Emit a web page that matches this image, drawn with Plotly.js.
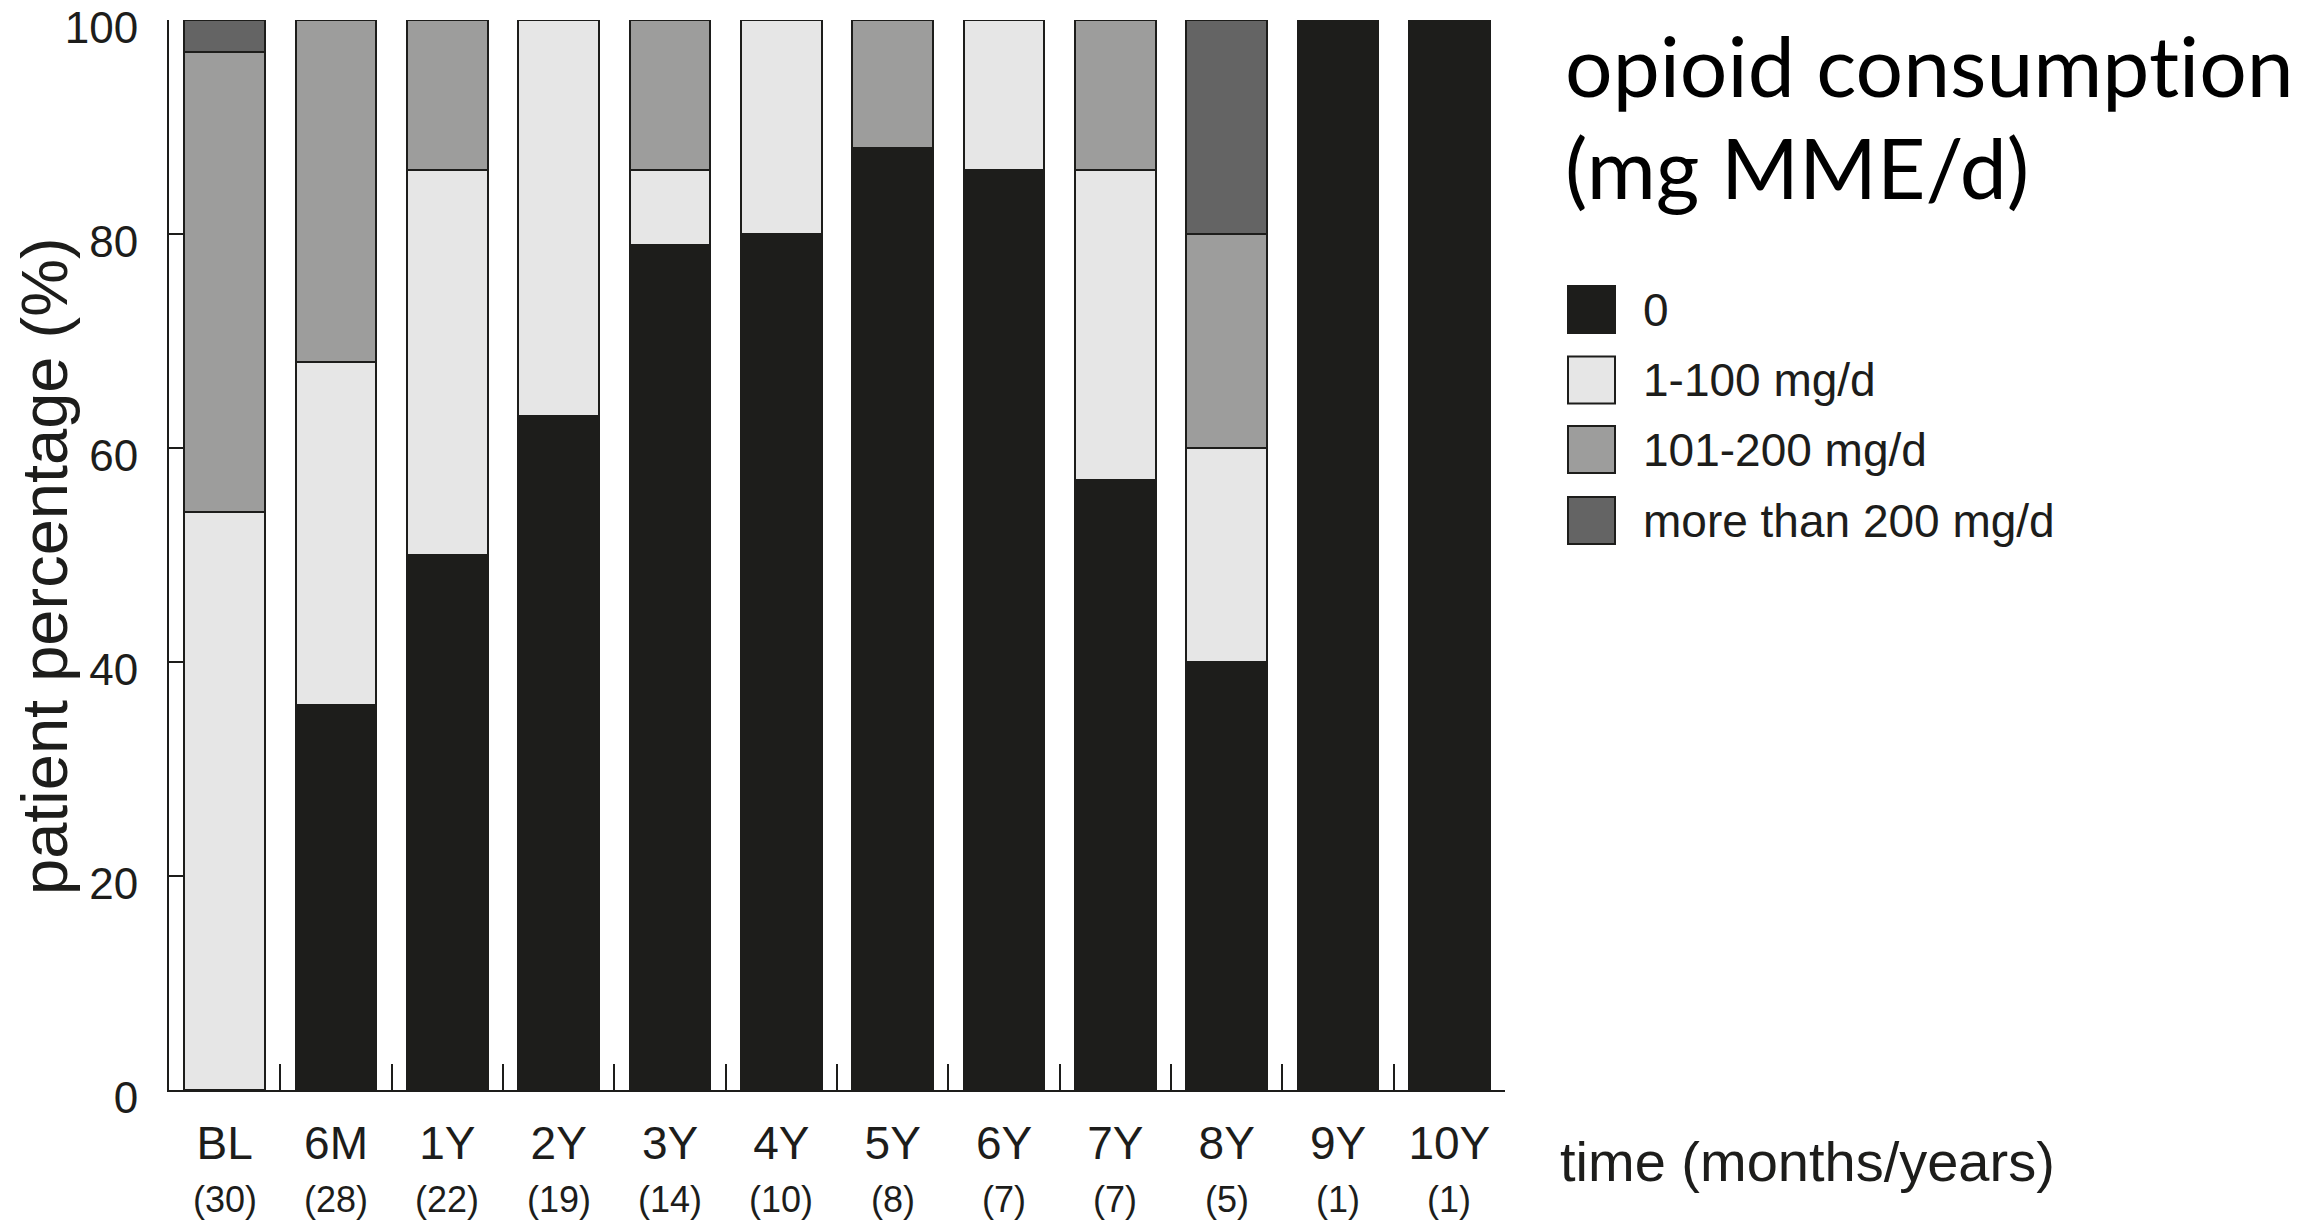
<!DOCTYPE html>
<html>
<head>
<meta charset="utf-8">
<script src="https://cdn.plot.ly/plotly-3.0.1.min.js"></script>
<style>html,body{margin:0;padding:0;background:#fff;}#chart{width:2315px;height:1220px;}
text{font-variant-ligatures:none;font-feature-settings:"liga" 0, "clig" 0;}</style>
</head>
<body>
<div id="chart"></div>
<script>
// ---- data ----
const categories = ['BL', '6M', '1Y', '2Y', '3Y', '4Y', '5Y', '6Y', '7Y', '8Y', '9Y', '10Y'];
const counts = [30, 28, 22, 19, 14, 10, 8, 7, 7, 5, 1, 1];
const seriesNames = ['0', '1-100 mg/d', '101-200 mg/d', 'more than 200 mg/d'];
const pctNone = [0, 36, 50, 63, 79, 80, 88, 86, 57, 40, 100, 100];
const pct1to100 = [54, 32, 36, 37, 7, 20, 0, 14, 29, 20, 0, 0];
const pct101to200 = [43, 32, 14, 0, 14, 0, 12, 0, 14, 20, 0, 0];
const pctOver200 = [3, 0, 0, 0, 0, 0, 0, 0, 0, 20, 0, 0];
const yTicks = [0, 20, 40, 60, 80, 100];
const legendTitle = ['opioid consumption', '(mg MME/d)'];
const xTitle = 'time (months/years)';
const yTitle = 'patient percentage (%)';

// ---- styling ----
const colors = ['#1d1d1b', '#e6e6e6', '#9d9d9c', '#646464'];
const ink = '#1d1d1b';
const font = 'Liberation Sans, Arial, sans-serif';
const W = 2315, H = 1220;
const L = 169, R = 1505, T = 20, B = 1090;
const px2x = p => (p - L) / (R - L);
const py2y = p => (B - p) / (B - T);

const seriesValues = [pctNone, pct1to100, pct101to200, pctOver200];
const traces = seriesValues.map((vals, i) => ({
  type: 'bar',
  name: seriesNames[i],
  x: categories,
  y: vals.map(v => (v === 0 ? null : v)),
  marker: {color: colors[i], line: {color: ink, width: 2}},
  showlegend: false,
  hoverinfo: 'x+y+name'
}));

const shapes = [];
const annotations = [];
// manual legend
const swatchCenters = [309.5, 380, 449.5, 520.5];
const sw = 47;
seriesNames.forEach((n, i) => {
  const cy = swatchCenters[i];
  shapes.push({type: 'rect', xref: 'paper', yref: 'paper',
    x0: px2x(1568), x1: px2x(1568 + sw), y0: py2y(cy + sw / 2), y1: py2y(cy - sw / 2),
    fillcolor: colors[i], line: {color: ink, width: 2}});
  annotations.push({xref: 'paper', yref: 'paper', x: px2x(1641), y: py2y(cy),
    xanchor: 'left', yanchor: 'middle', showarrow: false, text: n,
    font: {family: font, size: 46, color: ink}});
});
// legend title
const ltCenters = [65, 167];
legendTitle.forEach((t, i) => {
  annotations.push({xref: 'paper', yref: 'paper', x: px2x(1563), y: py2y(ltCenters[i]),
    xanchor: 'left', yanchor: 'middle', showarrow: false, text: t,
    font: {family: 'Lato, Open Sans, sans-serif', size: 84, color: '#000'}});
});
// counts under tick labels
categories.forEach((c, i) => {
  annotations.push({xref: 'x', yref: 'paper', x: c, y: py2y(1199),
    xanchor: 'center', yanchor: 'middle', showarrow: false, text: '(' + counts[i] + ')',
    font: {family: font, size: 36, color: ink}});
});
// x title to the right of axis
annotations.push({xref: 'paper', yref: 'paper', x: px2x(1558), y: py2y(1161),
  xanchor: 'left', yanchor: 'middle', showarrow: false, text: xTitle,
  font: {family: font, size: 56, color: ink}});
// y title
annotations.push({xref: 'paper', yref: 'paper', x: px2x(44), y: py2y(566),
  xanchor: 'center', yanchor: 'middle', showarrow: false, text: yTitle, textangle: -90,
  font: {family: font, size: 65, color: ink}});

const layout = {
  width: W, height: H,
  margin: {l: L, r: W - R, t: T, b: H - B, pad: 0},
  paper_bgcolor: '#fff', plot_bgcolor: '#fff',
  barmode: 'stack', bargap: 0.278,
  showlegend: false,
  font: {family: font, color: ink},
  xaxis: {
    type: 'category', range: [-0.5, categories.length - 0.5],
    showline: true, linecolor: ink, linewidth: 2,
    ticks: 'inside', tickson: 'boundaries', ticklen: 26, tickwidth: 2, tickcolor: ink,
    tickfont: {family: font, size: 46, color: ink},
    ticklabelstandoff: 12, ticklabeloverflow: 'allow',
    showgrid: false, zeroline: false, fixedrange: true
  },
  yaxis: {
    range: [0, 100], tickmode: 'array', tickvals: yTicks, ticktext: yTicks.map(String),
    showline: true, linecolor: ink, linewidth: 2,
    ticks: 'inside', ticklen: 14, tickwidth: 2, tickcolor: ink,
    tickfont: {family: font, size: 44, color: ink},
    ticklabelstandoff: 20, ticklabelshift: 8, ticklabeloverflow: 'allow',
    showgrid: false, zeroline: false, fixedrange: true
  },
  shapes: shapes,
  annotations: annotations
};

Plotly.newPlot('chart', traces, layout, {displayModeBar: false, staticPlot: true});
</script>
</body>
</html>
